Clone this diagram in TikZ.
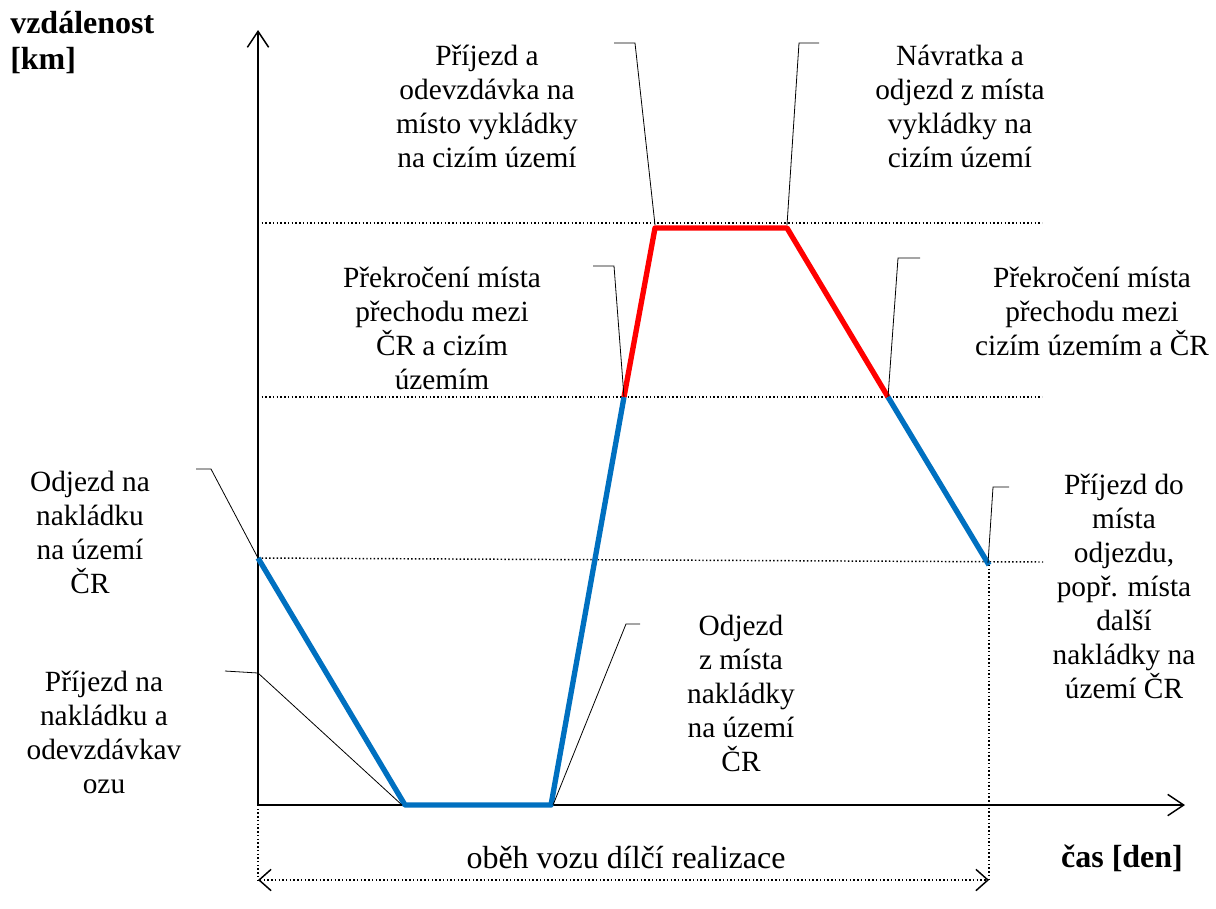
\documentclass[tikz,border=0pt]{standalone}
\usepackage{fontspec}
\setmainfont{LiberationSerif}[Extension=.ttf, UprightFont=*-Regular, BoldFont=*-Bold, ItalicFont=*-Italic, BoldItalicFont=*-BoldItalic]
\usetikzlibrary{arrows.meta}
\definecolor{czblue}{HTML}{0070C0}
\definecolor{frred}{HTML}{FF0000}
\begin{document}
\begin{tikzpicture}[x=0.75pt,y=-0.75pt,
  lbl/.style={align=center, inner sep=0pt, font=\rmfamily\fontsize{22}{25.5}\selectfont},
  biglbl/.style={inner sep=0pt, font=\rmfamily\fontsize{24}{27}\selectfont},
  axisline/.style={line width=1.5pt, -{Straight Barb[length=12pt,width=16pt,line width=1.1pt]}},
  gridline/.style={line width=1.1pt, dash pattern=on 1.1pt off 1.7pt},
  spanarrow/.style={line width=1.1pt, dash pattern=on 1.1pt off 1.7pt,
    {Straight Barb[length=9pt,width=16pt,line width=1.1pt,sep=0pt]}-{Straight Barb[length=9pt,width=16pt,line width=1.1pt]}},
  leader/.style={line width=0.6pt},
  home/.style={line width=4pt, draw=czblue},
  abroad/.style={line width=4pt, draw=frred}]
\useasboundingbox (0,0) rectangle (1216,908);

% axes
\coordinate (O) at (258,805);
\coordinate (ytip) at (258,30);
\coordinate (xtip) at (1185,805);
\draw[axisline] (O) -- (ytip);
\draw[axisline] (O) -- (xtip);

% characteristic points of the run
\coordinate (A) at (258,558);
\coordinate (B) at (405,805);
\coordinate (C) at (551,805);
\coordinate (D) at (624,397);
\coordinate (E) at (655,228);
\coordinate (F) at (787,228);
\coordinate (G) at (888,397);
\coordinate (H) at (989,565);

% dotted levels
\coordinate (top1) at (258,223);  \coordinate (top2) at (1042,223);
\coordinate (mid1) at (258,397);  \coordinate (mid2) at (1042,397);
\coordinate (low1) at (258,558);  \coordinate (low2) at (1043,562);
\draw[gridline] (top1) -- (top2);
\draw[gridline] (mid1) -- (mid2);
\draw[gridline] (low1) -- (low2);

% span of the cycle
\coordinate (s1) at (258,880);
\coordinate (s2) at (989,880);
\draw[gridline] (O) -- (s1);
\draw[gridline] (H) -- (s2);
\draw[spanarrow] (s1) -- (s2);

% distance profile
\draw[home, line join=round] (A) -- (B) -- (C) -- (D);
\draw[abroad, line join=round] (D) -- (E) -- (F) -- (G);
\draw[home, line join=round] (G) -- (H);

% leader lines
\coordinate (l1a) at (196,469); \coordinate (l1b) at (211,469);
\draw[leader] (l1a) -- (l1b) -- (A);
\coordinate (l2a) at (225,671); \coordinate (l2b) at (258,673); \coordinate (l2c) at (402,805);
\draw[leader] (l2a) -- (l2b) -- (l2c);
\coordinate (l3a) at (640,624); \coordinate (l3b) at (626,624); \coordinate (l3c) at (553,805);
\draw[leader] (l3a) -- (l3b) -- (l3c);
\coordinate (l4a) at (593,266); \coordinate (l4b) at (614,266);
\draw[leader] (l4a) -- (l4b) -- (D);
\coordinate (l5a) at (898,258); \coordinate (l5b) at (920,258);
\draw[leader] (G) -- (l5a) -- (l5b);
\coordinate (l6a) at (614,43); \coordinate (l6b) at (635,43); \coordinate (l6c) at (655,225);
\draw[leader] (l6a) -- (l6b) -- (l6c);
\coordinate (l7a) at (787,225); \coordinate (l7b) at (799,43); \coordinate (l7c) at (819,43);
\draw[leader] (l7a) -- (l7b) -- (l7c);
\coordinate (l8a) at (988,563); \coordinate (l8b) at (993,487); \coordinate (l8c) at (1009,487);
\draw[leader] (l8a) -- (l8b) -- (l8c);

% axis titles
\node[biglbl, font=\rmfamily\fontsize{24}{27}\selectfont\bfseries, align=left, anchor=north west] (ylab) at (10,11) {vzdálenost\\{[km]}};
\node[biglbl, font=\rmfamily\fontsize{24}{27}\selectfont\bfseries] (xlab) at (1122,858) {čas [den]};
\node[biglbl] (cycle) at (626,858) {oběh vozu dílčí realizace};

% event labels
\node[lbl] (t1) at (487,106) {Příjezd a\\odevzdávka na\\místo vykládky\\na cizím území};
\node[lbl] (t2) at (960,106) {Návratka a\\odjezd z místa\\vykládky na\\cizím území};
\node[lbl] (t3) at (442,328) {Překročení místa\\přechodu mezi\\ČR a cizím\\územím};
\node[lbl] (t4) at (1092,311) {Překročení místa\\přechodu mezi\\cizím územím a ČR};
\node[lbl] (t5) at (90,532) {Odjezd na\\nakládku\\na území\\ČR};
\node[lbl] (t6) at (104,732) {Příjezd na\\nakládku a\\odevzdávkav\\ozu};
\node[lbl] (t7) at (741,693) {Odjezd\\z místa\\nakládky\\na území\\ČR};
\node[lbl] (t8) at (1124,586) {Příjezd do\\místa\\odjezdu,\\popř. místa\\další\\nakládky na\\území ČR};
\end{tikzpicture}
\end{document}
